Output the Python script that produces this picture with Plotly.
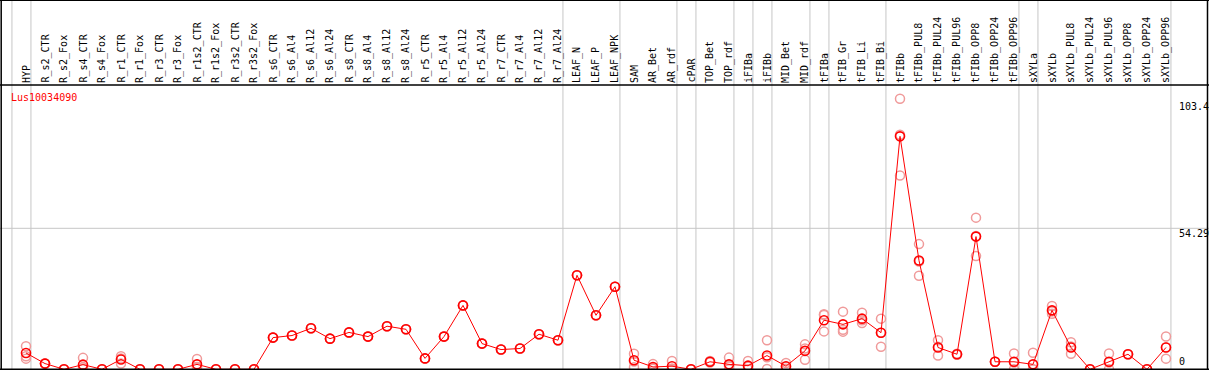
import plotly.graph_objects as go

W, H = 1209, 370

categories = [
    "HYP", "R_s2_CTR", "R_s2_Fox", "R_s4_CTR", "R_s4_Fox", "R_r1_CTR", "R_r1_Fox",
    "R_r3_CTR", "R_r3_Fox", "R_r1s2_CTR", "R_r1s2_Fox", "R_r3s2_CTR", "R_r3s2_Fox",
    "R_s6_CTR", "R_s6_Al4", "R_s6_Al12", "R_s6_Al24", "R_s8_CTR", "R_s8_Al4",
    "R_s8_Al12", "R_s8_Al24", "R_r5_CTR", "R_r5_Al4", "R_r5_Al12", "R_r5_Al24",
    "R_r7_CTR", "R_r7_Al4", "R_r7_Al12", "R_r7_Al24", "LEAF_N", "LEAF_P", "LEAF_NPK",
    "SAM", "AR_Bet", "AR_rdf", "cPAR", "TOP_Bet", "TOP_rdf", "iFIBa", "iFIBb",
    "MID_Bet", "MID_rdf", "tFIBa", "tFIB_Gr", "tFIB_Li", "tFIB_Bi", "tFIBb",
    "tFIBb_PUL8", "tFIBb_PUL24", "tFIBb_PUL96", "tFIBb_OPP8", "tFIBb_OPP24",
    "tFIBb_OPP96", "sXYLa", "sXYLb", "sXYLb_PUL8", "sXYLb_PUL24", "sXYLb_PUL96",
    "sXYLb_OPP8", "sXYLb_OPP24", "sXYLb_OPP96",
]

mean_values = [
    6.3, 2.2, 0.0, 1.8, 0.0, 3.8, 0.0, 0.0, 0.0, 1.9, 0.0, 0.0, 0.0,
    12.2, 13.0, 15.8, 11.8, 14.2, 12.6, 16.6, 15.4, 4.2, 12.6, 24.6, 9.9,
    7.6, 8.0, 13.5, 11.2, 36.2, 20.8, 31.8,
    3.5, 0.9, 1.2, 0.0, 2.9, 1.9, 1.4, 5.3, 1.2, 7.1,
    18.9, 17.3, 19.5, 14.1, 89.7, 41.9, 8.4, 5.8, 51.1, 2.9, 2.9,
    1.9, 22.7, 8.4, 0.0, 2.9, 5.8, 0.0, 8.4,
]

rep_a = [
    8.9, 2.2, 0.0, 4.4, 0.0, 5.0, 0.0, 0.0, 0.0, 4.0, 0.0, 0.0, 0.0,
    12.2, 13.0, 15.8, 11.8, 14.2, 12.6, 16.6, 15.4, 4.2, 12.6, 24.6, 9.9,
    7.6, 8.0, 13.5, 11.2, 36.2, 20.8, 31.8,
    6.0, 2.0, 3.2, 0.0, 3.2, 4.5, 3.2, 11.2, 2.4, 9.6,
    21.2, 22.2, 21.8, 19.5, 104.2, 48.2, 11.2, 5.6, 58.4, 2.9, 6.1,
    6.4, 24.4, 10.4, 0.0, 6.1, 5.8, 0.0, 12.6,
]

rep_b = [
    5.0, 2.2, 0.0, 0.8, 0.0, 2.2, 0.0, 0.0, 0.0, 0.9, 0.0, 0.0, 0.0,
    12.2, 13.0, 15.8, 11.8, 14.2, 12.6, 16.6, 15.4, 4.2, 12.6, 24.6, 9.9,
    7.6, 8.0, 13.5, 11.2, 36.2, 20.8, 31.8,
    3.0, 0.5, 0.3, 0.0, 2.6, 1.2, 1.0, 4.6, 1.0, 3.7,
    14.6, 14.5, 17.8, 8.7, 74.6, 36.0, 5.3, 6.0, 43.6, 2.9, 0.0,
    0.0, 21.4, 6.0, 0.0, 0.0, 5.8, 0.0, 4.1,
]

rep_c = [
    4.1, 2.2, 0.0, 0.2, 0.0, 4.2, 0.0, 0.0, 0.0, 0.8, 0.0, 0.0, 0.0,
    12.2, 13.0, 15.8, 11.8, 14.2, 12.6, 16.6, 15.4, 4.2, 12.6, 24.6, 9.9,
    7.6, 8.0, 13.5, 11.2, 36.2, 20.8, 31.8,
    0.8, 0.2, 0.1, 0.0, 2.9, 0.0, 0.0, 0.1, 0.2, 8.0,
    20.9, 15.2, 18.9, 14.1, 90.3, 41.5, 8.7, 5.8, 51.3, 2.9, 2.6,
    0.0, 22.3, 8.8, 0.0, 2.6, 5.8, 0.0, 8.5,
]

# groups: first category of each block separated by a vertical rule
group_starts = ["HYP", "R_s2_CTR", "LEAF_N", "SAM", "cPAR", "TOP_Bet", "iFIBa",
                "iFIBb", "MID_Bet", "tFIBa", "tFIB_Gr", "tFIBb", "sXYLa", "sXYLb"]

y_tick_values = [0, 54.29, 103.4]
y_tick_labels = ["0", "54.29", "103.4"]
gene_label = "Lus10034090"

FONT = "DejaVu Sans Mono"
GRAY = "#c6c6c6"
PINK = "#f09a9a"

# pixel geometry -> axis ranges
px_per_cat = 19.0
first_px = 26.0
zero_px = 369.3
px_per_unit = 2.597
header_px = 85

x_range = [-first_px / px_per_cat, (W - first_px) / px_per_cat]
y_range = [-(H - zero_px) / px_per_unit, zero_px / px_per_unit]

fig = go.Figure()

for reps in (rep_a, rep_b, rep_c):
    fig.add_trace(go.Scatter(
        x=categories, y=reps, mode="markers",
        marker=dict(symbol="circle-open", size=9, color=PINK, line=dict(width=1.5)),
        hoverinfo="skip", showlegend=False,
    ))

fig.add_trace(go.Scatter(
    x=categories, y=mean_values, mode="lines+markers",
    line=dict(color="#ff0000", width=1),
    marker=dict(symbol="circle-open", size=9, color="#ff0000", line=dict(width=1.6)),
    showlegend=False,
))

shapes = []
idx = {c: i for i, c in enumerate(categories)}
rule_x = [idx[c] - 0.74 for c in group_starts] + [len(categories) - 0.74]
for xv in rule_x:
    shapes.append(dict(type="line", xref="x", yref="paper", x0=xv, x1=xv, y0=0, y1=1,
                       line=dict(color=GRAY, width=1), layer="below"))
shapes.append(dict(type="line", xref="paper", yref="y", x0=0, x1=1,
                   y0=y_tick_values[1], y1=y_tick_values[1],
                   line=dict(color=GRAY, width=1), layer="below"))
# frame
black = dict(color="black", width=1.5)
hy = 1 - header_px / H
shapes += [
    dict(type="line", xref="paper", yref="paper", x0=0, x1=1, y0=0.999, y1=0.999, line=black),
    dict(type="line", xref="paper", yref="paper", x0=0, x1=1, y0=hy, y1=hy, line=black),
    dict(type="line", xref="paper", yref="y", x0=0, x1=1, y0=0, y1=0, line=black),
    dict(type="line", xref="paper", yref="paper", x0=1.2 / W, x1=1.2 / W, y0=0, y1=1, line=black),
    dict(type="line", xref="paper", yref="paper", x0=1207.5 / W, x1=1207.5 / W, y0=0, y1=1, line=black),
]

annotations = []
for c in categories:
    annotations.append(dict(x=c, xref="x", y=hy, yref="paper", text=c, showarrow=False,
                            textangle=-90, xanchor="center", yanchor="bottom",
                            font=dict(family=FONT, size=10, color="black")))
for v, t in zip(y_tick_values, y_tick_labels):
    annotations.append(dict(x=1177 / W, xref="paper", y=v, yref="y", text=t, showarrow=False,
                            xanchor="left", yanchor="top" if v > 0 else "bottom",
                            yshift=2 if v > 0 else 0,
                            font=dict(family=FONT, size=10, color="black")))
annotations.append(dict(x=9 / W, xref="paper", y=1 - 97 / H, yref="paper", text=gene_label,
                        showarrow=False, xanchor="left", yanchor="middle",
                        font=dict(family=FONT, size=10, color="#ff0000")))

fig.update_layout(
    width=W, height=H, autosize=False,
    margin=dict(l=0, r=0, t=0, b=0, pad=0),
    paper_bgcolor="white", plot_bgcolor="white",
    xaxis=dict(type="category", categoryorder="array", categoryarray=categories,
               range=x_range, showticklabels=False, showgrid=False, zeroline=False,
               showline=False, ticks=""),
    yaxis=dict(range=y_range, showticklabels=False, showgrid=False, zeroline=False,
               showline=False, ticks=""),
    shapes=shapes, annotations=annotations,
)

fig.write_html(
    "out.html",
    config={"displayModeBar": False, "staticPlot": True},
    post_script="document.body.style.margin='0';document.body.style.padding='0';"
                "document.body.style.overflow='hidden';",
)
